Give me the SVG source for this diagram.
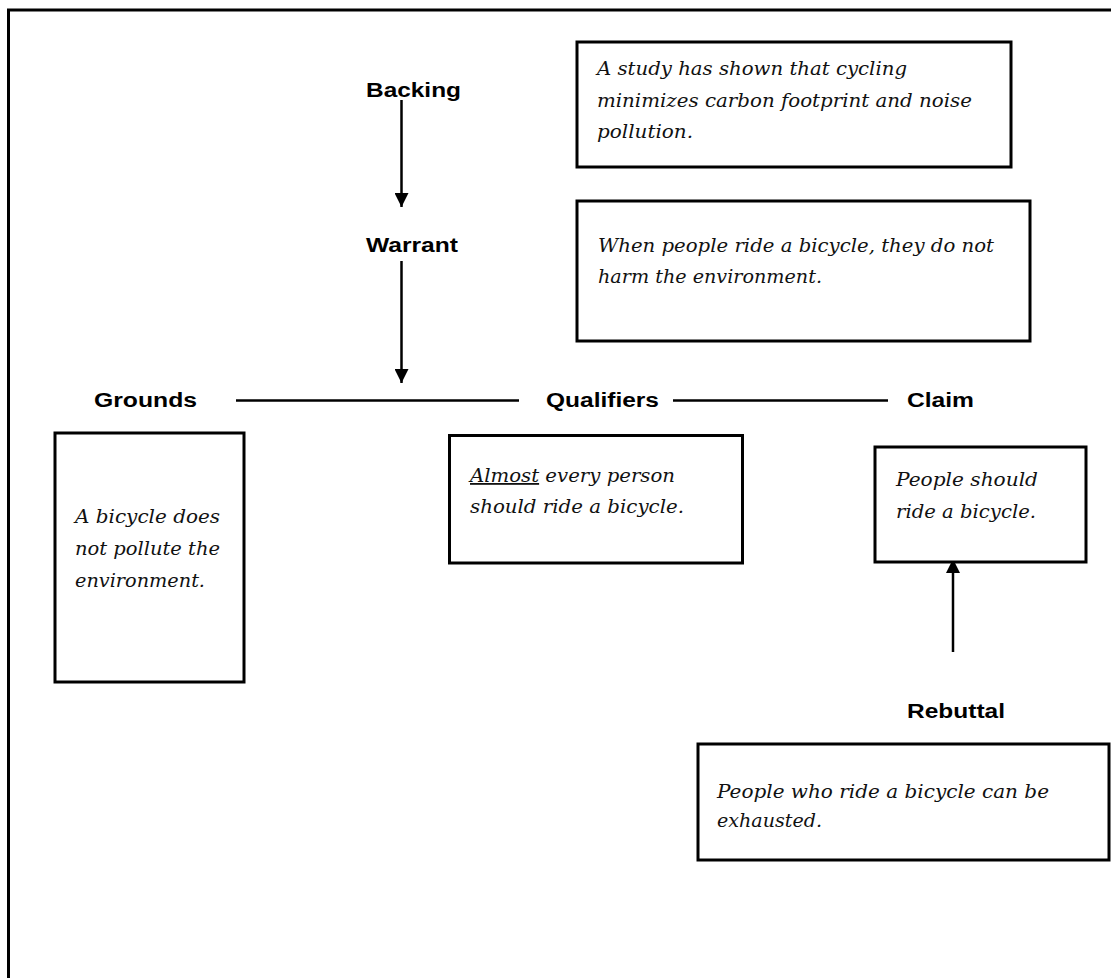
<svg xmlns="http://www.w3.org/2000/svg" width="1111" height="978" viewBox="0 0 1111 978">
<style>
.box{fill:#fff;stroke:#000;stroke-width:3}
.lbl{font-family:"Liberation Sans",Arial,sans-serif;font-weight:bold;font-size:20px;fill:#000}
.txt{font-family:"DejaVu Serif","Liberation Serif",serif;font-style:italic;font-size:18px;fill:#111}
.conn{stroke:#000;stroke-width:2.5;fill:none}
</style>
<defs>
<marker id="ah" viewBox="0 0 14 14" markerWidth="14" markerHeight="14" markerUnits="userSpaceOnUse" refX="14" refY="7" orient="auto">
<path d="M0,0 L14,7 L0,14 z" fill="#000"/>
</marker>
</defs>
<rect width="1111" height="978" fill="#fff"/>
<path d="M8.5,978 V10 H1111" fill="none" stroke="#000" stroke-width="3"/>

<g id="connectors">
<line class="conn" x1="401.5" y1="100" x2="401.5" y2="207" marker-end="url(#ah)"/>
<line class="conn" x1="401.5" y1="261" x2="401.5" y2="383" marker-end="url(#ah)"/>
<line class="conn" x1="236" y1="400.5" x2="519" y2="400.5"/>
<line class="conn" x1="673" y1="400.5" x2="888" y2="400.5"/>
<line class="conn" x1="953" y1="652" x2="953" y2="559" marker-end="url(#ah)"/>
</g>

<g id="backing">
<text class="lbl" x="366" y="97" textLength="95" lengthAdjust="spacingAndGlyphs">Backing</text>
<rect class="box" x="577" y="42" width="434" height="125"/>
<text class="txt" x="597" y="75" textLength="310" lengthAdjust="spacingAndGlyphs">A study has shown that cycling</text>
<text class="txt" x="597" y="107" textLength="375" lengthAdjust="spacingAndGlyphs">minimizes carbon footprint and noise</text>
<text class="txt" x="597" y="138" textLength="96" lengthAdjust="spacingAndGlyphs">pollution.</text>
</g>

<g id="warrant">
<text class="lbl" x="366" y="252" textLength="92" lengthAdjust="spacingAndGlyphs">Warrant</text>
<rect class="box" x="577" y="201" width="453" height="140"/>
<text class="txt" x="598" y="252" textLength="396" lengthAdjust="spacingAndGlyphs">When people ride a bicycle, they do not</text>
<text class="txt" x="598" y="283" textLength="224" lengthAdjust="spacingAndGlyphs">harm the environment.</text>
</g>

<g id="grounds">
<text class="lbl" x="94" y="407" textLength="103" lengthAdjust="spacingAndGlyphs">Grounds</text>
<rect class="box" x="55" y="433" width="189" height="249"/>
<text class="txt" x="75" y="523" textLength="145" lengthAdjust="spacingAndGlyphs">A bicycle does</text>
<text class="txt" x="75" y="555" textLength="145" lengthAdjust="spacingAndGlyphs">not pollute the</text>
<text class="txt" x="75" y="587" textLength="130" lengthAdjust="spacingAndGlyphs">environment.</text>
</g>

<g id="qualifiers">
<text class="lbl" x="546" y="407" textLength="113" lengthAdjust="spacingAndGlyphs">Qualifiers</text>
<rect class="box" x="449.5" y="435.5" width="293" height="127.5"/>
<text class="txt" x="470" y="482" textLength="205" lengthAdjust="spacingAndGlyphs"><tspan text-decoration="underline">Almost</tspan> every person</text>
<text class="txt" x="470" y="513" textLength="214" lengthAdjust="spacingAndGlyphs">should ride a bicycle.</text>
</g>

<g id="claim">
<text class="lbl" x="907" y="407" textLength="67" lengthAdjust="spacingAndGlyphs">Claim</text>
<rect class="box" x="875" y="447" width="211" height="115"/>
<text class="txt" x="896" y="486" textLength="142" lengthAdjust="spacingAndGlyphs">People should</text>
<text class="txt" x="896" y="518" textLength="140" lengthAdjust="spacingAndGlyphs">ride a bicycle.</text>
</g>

<g id="rebuttal">
<text class="lbl" x="907" y="718" textLength="98" lengthAdjust="spacingAndGlyphs">Rebuttal</text>
<rect class="box" x="698" y="744" width="411" height="116"/>
<text class="txt" x="717" y="798" textLength="332" lengthAdjust="spacingAndGlyphs">People who ride a bicycle can be</text>
<text class="txt" x="717" y="827" textLength="105" lengthAdjust="spacingAndGlyphs">exhausted.</text>
</g>
</svg>
